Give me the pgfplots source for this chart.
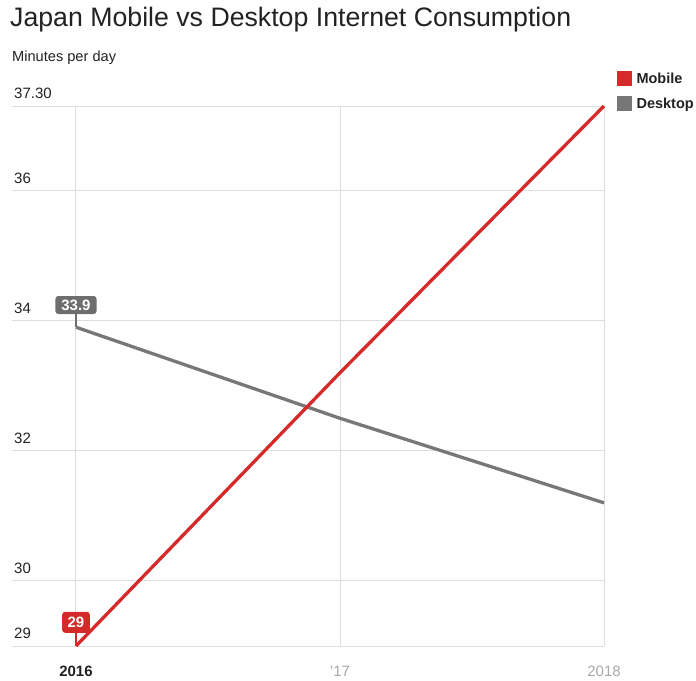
\documentclass[border=0pt]{standalone}
\usepackage{pgfplots}
\pgfplotsset{compat=1.18}
\usepackage{fontspec}
\setmainfont{Liberation Sans}
\definecolor{mred}{HTML}{D52A2A}
\definecolor{dgrey}{HTML}{777777}
\definecolor{lblgrey}{HTML}{6E6E6E}
\definecolor{gridc}{HTML}{DDDDDD}
\definecolor{ltick}{HTML}{A8A8A8}
\definecolor{txt}{HTML}{222222}
\begin{document}
\begin{tikzpicture}
\path[use as bounding box] (0pt,0pt) rectangle (696pt,680pt);
\node[anchor=base west, inner sep=0, font=\fontsize{26.7}{32}\selectfont, text=txt] at (10pt,653pt) {Japan Mobile vs Desktop Internet Consumption};
\node[anchor=base west, inner sep=0, font=\fontsize{14.6}{17}\selectfont, text=txt] at (12pt,618pt) {Minutes per day};
\begin{axis}[
 at={(12pt,34pt)}, anchor=south west,
 scale only axis, width=592pt, height=540pt,
 xmin=2015.7576, xmax=2018, ymin=29, ymax=37.3,
 axis line style={draw=none},
 xtick={2016,2017,2018},
 xticklabels={{\bfseries\color{txt}2016},{\color{ltick}'17},{\color{ltick}2018}},
 ytick={29,30,32,34,36,37.3},
 yticklabels={29,30,32,34,36,37.30},
 major tick length=0pt,
 grid=major,
 major grid style={gridc, line width=1pt},
 yticklabel style={anchor=base west, inner sep=0pt, xshift=2pt, yshift=7.5pt, font=\fontsize{15}{18}\selectfont, text=txt},
 xticklabel style={anchor=base, inner sep=0pt, yshift=-30pt, font=\fontsize{15}{18}\selectfont},
 clip=false,
 reverse legend,
 legend style={at={(1.022,1.066)}, anchor=north west, draw=none, fill=none, inner sep=0pt,
   font=\bfseries\fontsize{14.5}{17}\selectfont, text=txt, row sep=9pt,
   cells={anchor=west},
   /tikz/every odd column/.append style={column sep=3pt}},
]
\addplot[dgrey, line width=3.3pt, legend image code/.code={\fill[dgrey] (0pt,-5.5pt) rectangle (11pt,5.5pt);}]
  coordinates {(2016,33.9) (2017,32.5) (2018,31.2)};
\addlegendentry{Desktop}
\addplot[mred, line width=3.3pt, legend image code/.code={\fill[mred] (0pt,-5.5pt) rectangle (11pt,5.5pt);}]
  coordinates {(2016,29) (2017,33.2) (2018,37.3)};
\addlegendentry{Mobile}
\draw[lblgrey, line width=1.2pt] (axis cs:2016,33.9) -- ([yshift=14pt]axis cs:2016,33.9);
\node[fill=lblgrey, rounded corners=3pt, text=white, font=\bfseries\fontsize{15}{18}\selectfont,
  inner xsep=6pt, inner ysep=3.5pt, text height=11pt, text depth=0pt, anchor=south]
  at ([yshift=13pt]axis cs:2016,33.9) {33.9};
\draw[mred, line width=1.2pt] (axis cs:2016,29) -- ([yshift=14pt]axis cs:2016,29);
\node[fill=mred, rounded corners=3pt, text=white, font=\bfseries\fontsize{15}{18}\selectfont,
  inner xsep=5.5pt, inner ysep=5pt, text height=11pt, text depth=0pt, anchor=south]
  at ([yshift=13pt]axis cs:2016,29) {29};
\end{axis}
\end{tikzpicture}
\end{document}
